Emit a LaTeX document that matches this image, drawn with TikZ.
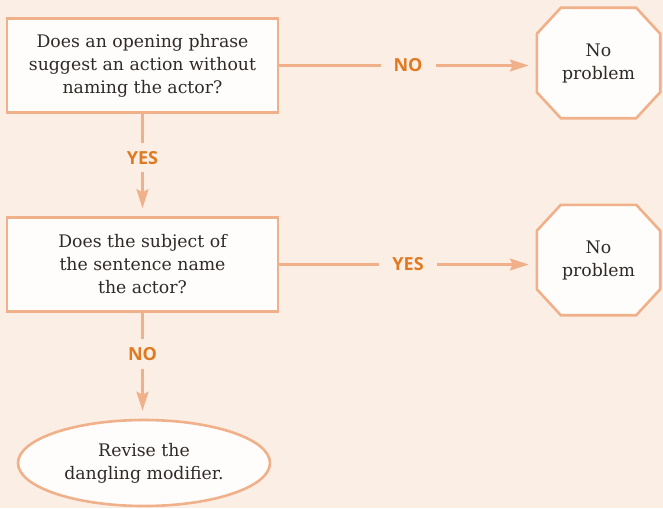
\documentclass[tikz,border=0pt]{standalone}
\usepackage{fontspec}
\setmainfont{DejaVu Serif}
\newfontfamily\lblfont{Open Sans}
\usetikzlibrary{shapes.geometric,arrows.meta,calc,backgrounds}

\definecolor{pagebg}{HTML}{FBEEE5}
\definecolor{edgecol}{HTML}{F0B08A}
\definecolor{lblcol}{HTML}{E07A22}
\definecolor{ink}{HTML}{2E2A27}
\definecolor{boxfill}{HTML}{FFFDFB}

\newcommand\bodyfont{\fontsize{17.3}{23}\selectfont}
\newcommand\tagfont{\lblfont\bfseries\fontsize{18}{18}\selectfont}

\begin{document}
\begin{tikzpicture}[x=1pt,y=-1pt,
  qbox/.style={draw=edgecol, line width=2.6pt, fill=boxfill, minimum width=271pt,
    minimum height=94pt, align=center, text=ink, font=\bodyfont, inner sep=0pt},
  okbox/.style={minimum width=123pt, minimum height=110pt, align=center,
    text=ink, font=\bodyfont, inner sep=0pt},
  octa/.style={draw=edgecol, line width=2.6pt, fill=boxfill, line join=miter},
  endbox/.style={ellipse, draw=edgecol, line width=2.6pt, fill=boxfill,
    minimum width=252pt, minimum height=86pt, align=center, text=ink,
    font=\bodyfont, inner sep=0pt},
  conn/.style={draw=edgecol, line width=2.4pt,
    -{Stealth[length=19pt, width=12pt, inset=3pt]}, shorten >=8pt},
  hlbl/.style={fill=pagebg, text=lblcol, font=\tagfont, inner xsep=13pt, inner ysep=3pt},
  vlbl/.style={fill=pagebg, text=lblcol, font=\tagfont, inner xsep=3pt, inner ysep=8pt}]

\useasboundingbox (0,0) rectangle (663,508);

% decision boxes
\node[qbox] (q1) at (142.5,65.5) {Does an opening phrase\\suggest an action without\\naming the actor?};
\node[qbox] (q2) at (142.5,264.5) {Does the subject of\\the sentence name\\the actor?};

% outcome nodes
\node[okbox] (ok1) at (598.5,63) {No\\problem};
\node[okbox] (ok2) at (598.5,260) {No\\problem};
\node[endbox] (fix) at (144,463) {Revise the\\dangling modifier.};

% octagon outlines behind the outcome texts
\begin{scope}[on background layer]
  \fill[pagebg] (0,0) rectangle (663,508);
  \foreach \n in {ok1,ok2}
    \draw[octa] ($(\n.north west)+(24,0)$) -- ($(\n.north east)+(-24,0)$)
      -- ($(\n.north east)+(0,26)$) -- ($(\n.south east)+(0,-26)$)
      -- ($(\n.south east)+(-24,0)$) -- ($(\n.south west)+(24,0)$)
      -- ($(\n.south west)+(0,-26)$) -- ($(\n.north west)+(0,26)$) -- cycle;
\end{scope}

% connectors
\draw[conn] (q1.east) -- node[hlbl] {NO} (q1.east -| ok1.west);
\draw[conn] (q1.south) -- node[vlbl, pos=0.43] {YES} (q2.north);
\draw[conn] (q2.east) -- node[hlbl] {YES} (q2.east -| ok2.west);
\draw[conn] (q2.south) -- node[vlbl, pos=0.39] {NO} (q2.south |- fix.north);
\end{tikzpicture}
\end{document}
